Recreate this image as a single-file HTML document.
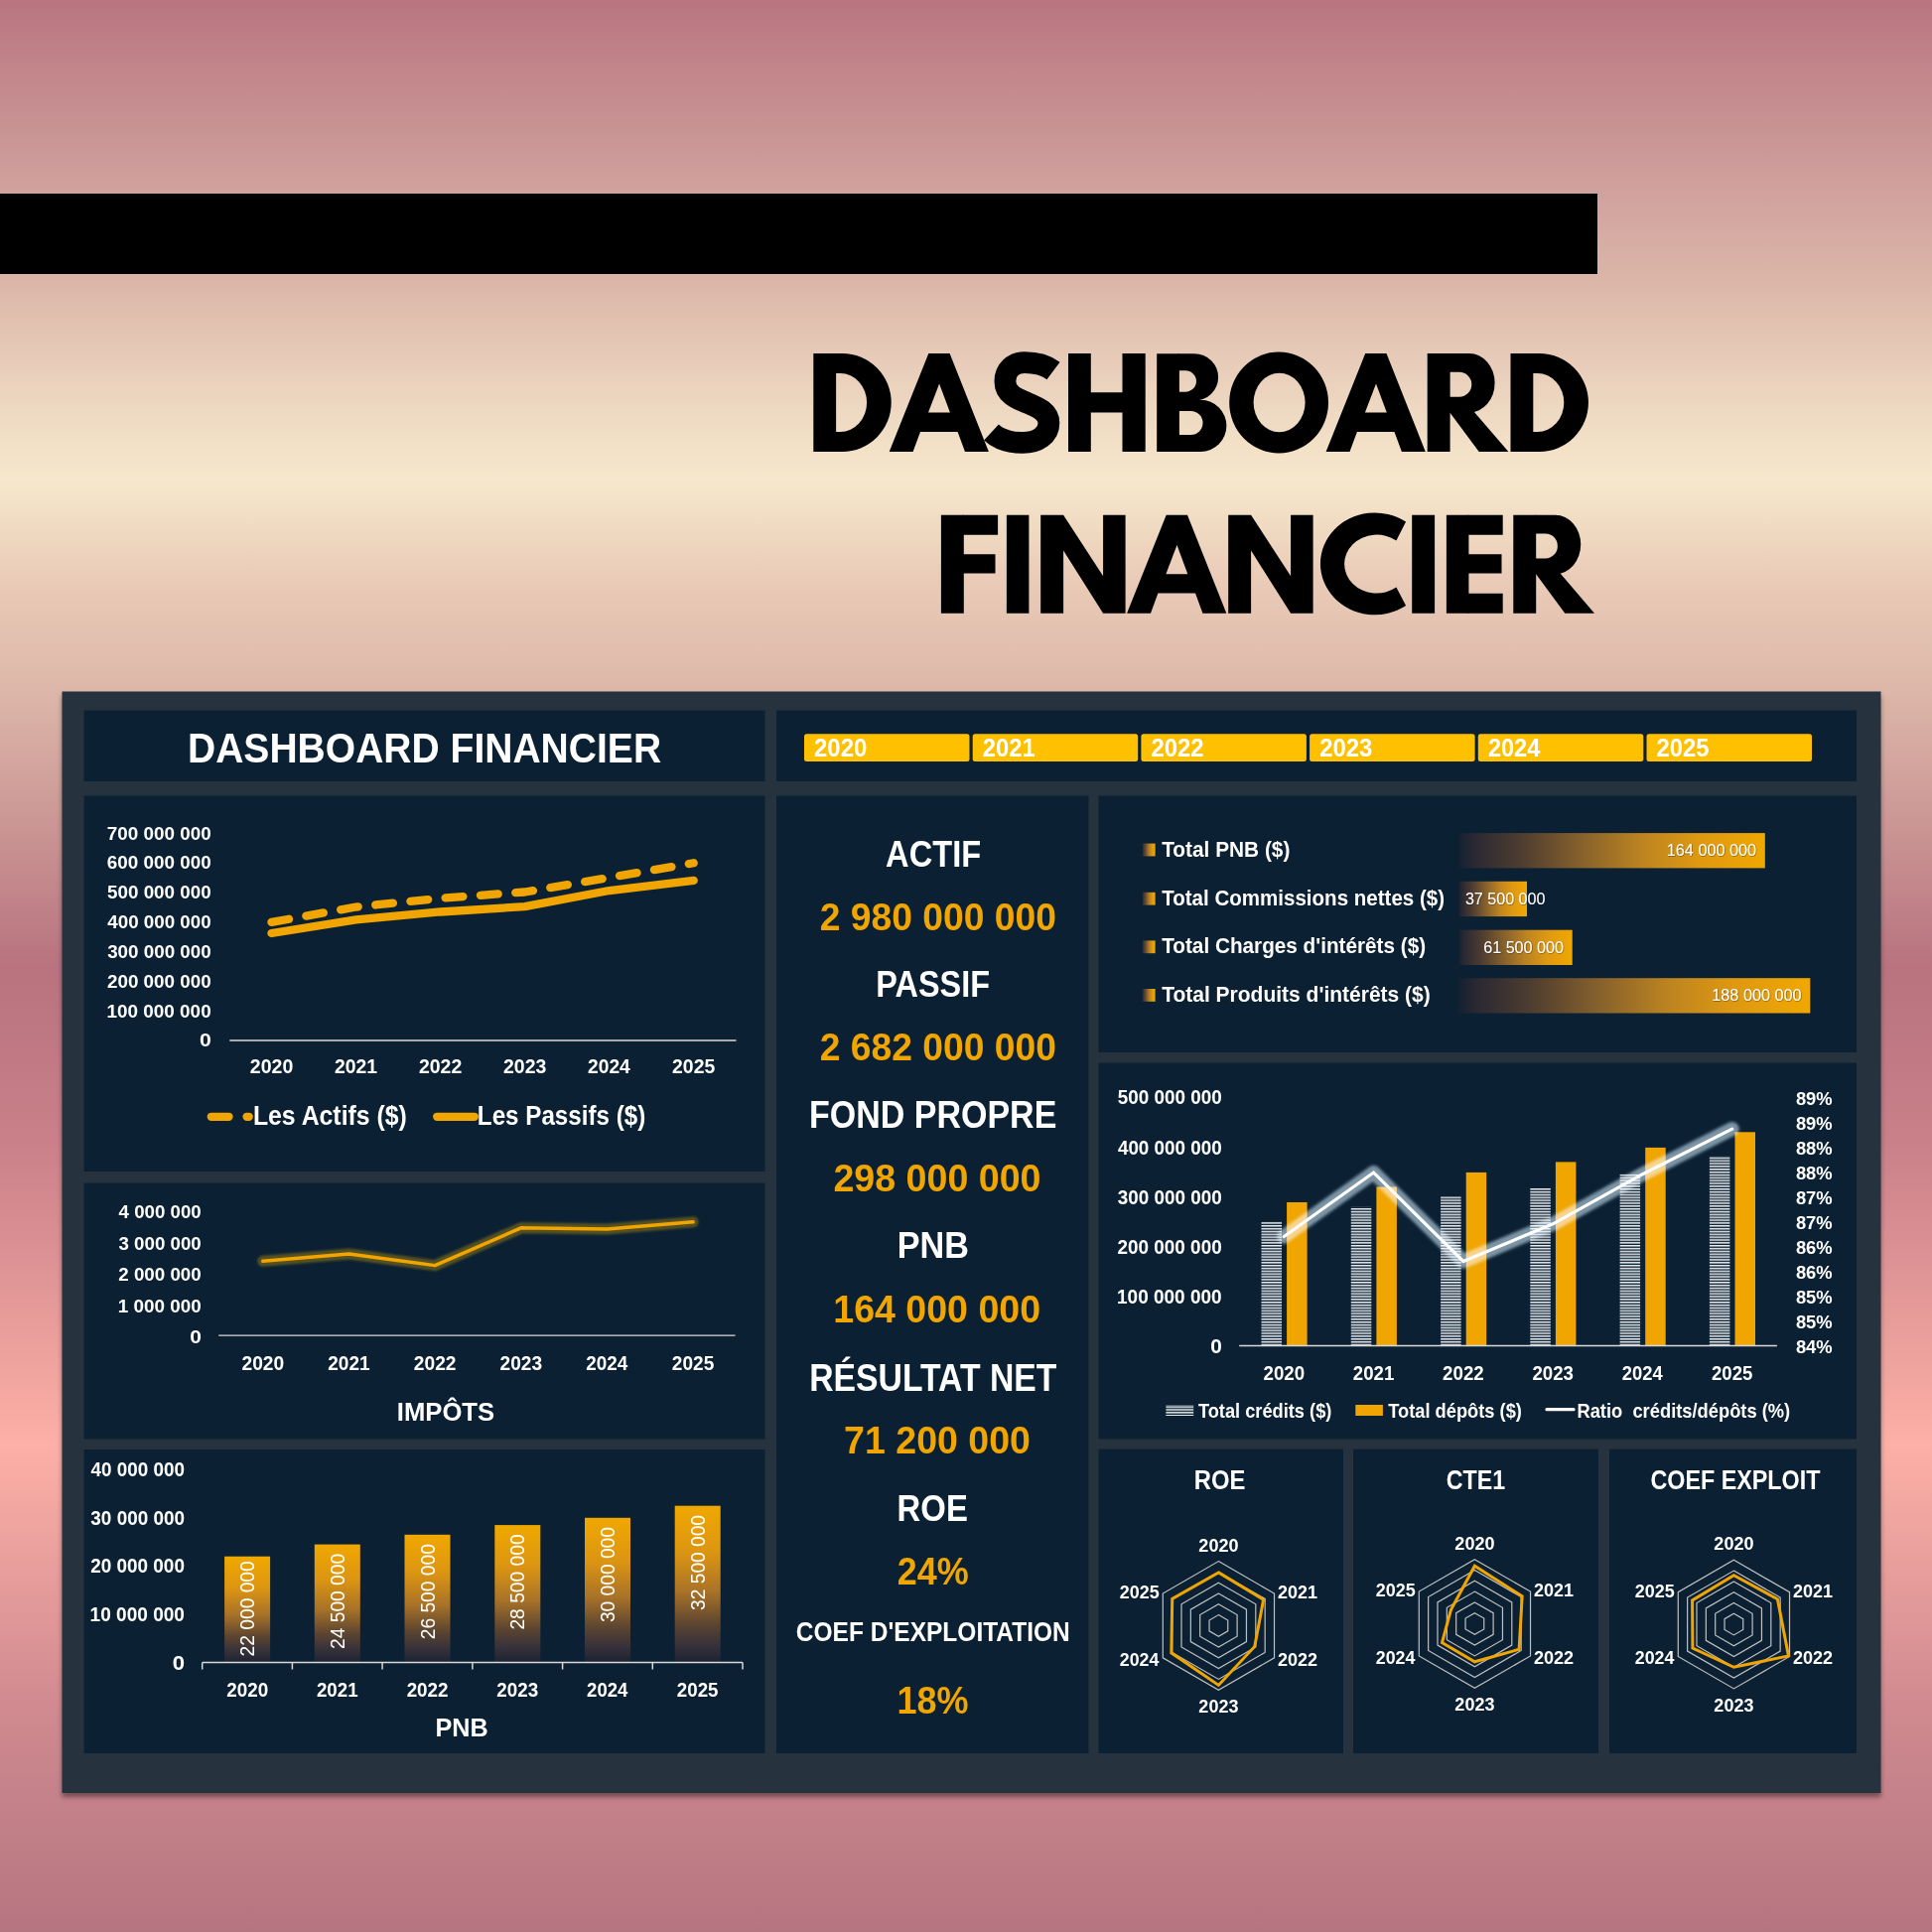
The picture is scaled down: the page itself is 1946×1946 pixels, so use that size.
<!DOCTYPE html>
<html><head><meta charset="utf-8"><title>Dashboard Financier</title>
<style>
html,body{margin:0;padding:0;}
body{width:1946px;height:1946px;overflow:hidden;background:linear-gradient(180deg, #b97580 0px, #d0a19d 190px, #dbb5a8 280px, #ebd3be 390px, #f6e8cc 483px, #eaccb8 580px, #dcb6a8 700px, #b8737f 973px, #c98089 1150px, #fcb0a6 1455px, #d08a90 1720px, #b57580 1946px);font-family:"Liberation Sans",sans-serif;}
svg{position:absolute;left:0;top:0;}
text{font-family:"Liberation Sans",sans-serif;}
</style></head><body>
<svg width="1946" height="1946" viewBox="0 0 1946 1946">
<defs>
<linearGradient id="gbar" x1="0" y1="0" x2="0" y2="1">
 <stop offset="0" stop-color="#f0a800"/><stop offset="0.3" stop-color="#dc9512"/><stop offset="0.55" stop-color="#a87228"/><stop offset="0.75" stop-color="#5e4630"/><stop offset="0.9" stop-color="#34303a"/><stop offset="1" stop-color="#1c2330"/>
</linearGradient>
<linearGradient id="gsq" x1="0" y1="0" x2="1" y2="0">
 <stop offset="0" stop-color="#2a2833"/><stop offset="0.25" stop-color="#6a4c2e"/><stop offset="0.5" stop-color="#ad7a26"/><stop offset="0.75" stop-color="#da9a14"/><stop offset="1" stop-color="#f2a800"/>
</linearGradient>
<linearGradient id="gh0" x1="0" y1="0" x2="1" y2="0"><stop offset="0" stop-color="#142030"/><stop offset="0.05" stop-color="#2a2833"/><stop offset="0.2" stop-color="#4d3c30"/><stop offset="0.4" stop-color="#86612c"/><stop offset="0.6" stop-color="#bd8420"/><stop offset="0.78" stop-color="#de9812"/><stop offset="1" stop-color="#f0a800"/></linearGradient>
<linearGradient id="gh1" x1="0" y1="0" x2="1" y2="0"><stop offset="0" stop-color="#142030"/><stop offset="0.05" stop-color="#2a2833"/><stop offset="0.2" stop-color="#4d3c30"/><stop offset="0.4" stop-color="#86612c"/><stop offset="0.6" stop-color="#bd8420"/><stop offset="0.78" stop-color="#de9812"/><stop offset="1" stop-color="#f0a800"/></linearGradient>
<linearGradient id="gh2" x1="0" y1="0" x2="1" y2="0"><stop offset="0" stop-color="#142030"/><stop offset="0.05" stop-color="#2a2833"/><stop offset="0.2" stop-color="#4d3c30"/><stop offset="0.4" stop-color="#86612c"/><stop offset="0.6" stop-color="#bd8420"/><stop offset="0.78" stop-color="#de9812"/><stop offset="1" stop-color="#f0a800"/></linearGradient>
<linearGradient id="gh3" x1="0" y1="0" x2="1" y2="0"><stop offset="0" stop-color="#142030"/><stop offset="0.05" stop-color="#2a2833"/><stop offset="0.2" stop-color="#4d3c30"/><stop offset="0.4" stop-color="#86612c"/><stop offset="0.6" stop-color="#bd8420"/><stop offset="0.78" stop-color="#de9812"/><stop offset="1" stop-color="#f0a800"/></linearGradient>
<mask id="tm" maskUnits="userSpaceOnUse" x="0" y="0" width="1946" height="1946"><path d="M819.30,356.00 H848.30 A49.45,49.45 0 0 1 848.30,454.90 H819.30 Z" fill="#fff"/><path d="M895.70,454.90 L935.30,356.00 L956.60,356.00 L995.90,454.90 L972.00,454.90 L964.60,434.90 L927.00,434.90 L919.60,454.90 Z" fill="#fff"/><path d="M1076.00,356.00 H1098.80 V454.90 H1076.00 Z" fill="#fff"/><path d="M1130.50,356.00 H1153.70 V454.90 H1130.50 Z" fill="#fff"/><path d="M1097.80,395.30 H1131.50 V415.40 H1097.80 Z" fill="#fff"/><path d="M1165.20,356.20 H1187.90 V454.90 H1165.20 Z" fill="#fff"/><path d="M1186.9,356.2 H1203 A23.7,23.3 0 0 1 1203,403.6 H1186.9 Z" fill="#fff"/><path d="M1186.9,402.8 H1209.4 A26,26.05 0 0 1 1209.4,454.9 H1186.9 Z" fill="#fff"/><path d="M1238.2,405.45 A49.9,50.95 0 1 0 1338,405.45 A49.9,50.95 0 1 0 1238.2,405.45 Z" fill="#fff"/><path d="M1335.60,454.90 L1375.20,356.00 L1396.50,356.00 L1435.80,454.90 L1411.90,454.90 L1404.50,434.90 L1366.90,434.90 L1359.50,454.90 Z" fill="#fff"/><path d="M1437.70,356.00 H1460.60 V454.90 H1437.70 Z" fill="#fff"/><path d="M1459.60,356.00 H1480.00 A25.6,29.75 0 0 1 1480.00,415.50 H1459.60 Z" fill="#fff"/><path d="M1459.60,414.40 L1484.50,414.40 L1519.40,454.90 L1489.70,454.90 Z" fill="#fff"/><path d="M1521.50,356.00 H1550.50 A49.45,49.45 0 0 1 1550.50,454.90 H1521.50 Z" fill="#fff"/><path d="M947.90,518.70 H970.80 V617.80 H947.90 Z" fill="#fff"/><path d="M969.80,518.70 H1005.10 V538.80 H969.80 Z" fill="#fff"/><path d="M969.80,558.20 H1002.50 V577.50 H969.80 Z" fill="#fff"/><path d="M1013.90,518.70 H1036.40 V617.80 H1013.90 Z" fill="#fff"/><path d="M1048.20,617.80 L1048.20,518.70 L1071.10,518.70 L1111.10,580.30 L1111.10,518.70 L1133.60,518.70 L1133.60,617.80 L1111.10,617.80 L1071.10,554.60 L1071.10,617.80 Z" fill="#fff"/><path d="M1135.10,617.80 L1174.70,518.70 L1196.00,518.70 L1235.30,617.80 L1211.40,617.80 L1204.00,597.60 L1166.40,597.60 L1159.00,617.80 Z" fill="#fff"/><path d="M1237.20,617.80 L1237.20,518.70 L1260.10,518.70 L1300.10,580.30 L1300.10,518.70 L1322.60,518.70 L1322.60,617.80 L1300.10,617.80 L1260.10,554.60 L1260.10,617.80 Z" fill="#fff"/><path d="M1416.1,525.6 A54.9,51.4 0 1 0 1416.1,610.1 L1406.4,591.6 A32.6,29.5 0 1 1 1406.4,544.6 Z" fill="#fff"/><path d="M1422.20,518.70 H1445.10 V617.80 H1422.20 Z" fill="#fff"/><path d="M1456.90,518.70 H1479.40 V617.80 H1456.90 Z" fill="#fff"/><path d="M1478.40,518.70 H1513.70 V538.80 H1478.40 Z" fill="#fff"/><path d="M1478.40,558.20 H1512.50 V577.50 H1478.40 Z" fill="#fff"/><path d="M1478.40,597.80 H1513.70 V617.80 H1478.40 Z" fill="#fff"/><path d="M1524.30,518.70 H1547.20 V617.80 H1524.30 Z" fill="#fff"/><path d="M1546.20,518.70 H1566.60 A25.6,29.75 0 0 1 1566.60,578.20 H1546.20 Z" fill="#fff"/><path d="M1546.20,577.10 L1571.10,577.10 L1606.00,617.80 L1576.30,617.80 Z" fill="#fff"/><path d="M1061,373.5 C1053,367.5 1043,365.2 1032,365.2 C1020,365.2 1012.4,373 1012.4,384 C1012.4,397 1024,401.5 1034,405.5 C1046,410.5 1056.4,415 1056.4,426 C1056.4,438.5 1045,445.9 1030,445.9 C1016,445.9 1005,441.5 998.5,435.5" fill="none" stroke="#fff" stroke-width="21.8"/><path d="M842.10,376.00 H846.50 A26.60,29.50 0 0 1 846.50,435.00 H842.10 Z" fill="#000"/><path d="M946.10,386.40 L956.90,415.50 L935.00,415.50 Z" fill="#000"/><path d="M1187.9,373.3 H1194 A11,10.7 0 0 1 1194,394.7 H1187.9 Z" fill="#000"/><path d="M1187.9,414 H1199.5 A12,11.95 0 0 1 1199.5,437.9 H1187.9 Z" fill="#000"/><path d="M1262.6,405.5 A26,29.7 0 1 0 1314.6,405.5 A26,29.7 0 1 0 1262.6,405.5 Z" fill="#000"/><path d="M1386.00,386.40 L1396.80,415.50 L1374.90,415.50 Z" fill="#000"/><path d="M1460.60,374.70 H1470.00 A12.3,12.55 0 0 1 1470.00,399.80 H1460.60 Z" fill="#000"/><path d="M1544.30,376.00 H1548.70 A26.60,29.50 0 0 1 1548.70,435.00 H1544.30 Z" fill="#000"/><path d="M1185.50,549.10 L1196.30,578.20 L1174.40,578.20 Z" fill="#000"/><path d="M1547.20,537.40 H1556.60 A12.3,12.55 0 0 1 1556.60,562.50 H1547.20 Z" fill="#000"/></mask>
<pattern id="stripes" patternUnits="userSpaceOnUse" width="6" height="2.85">
 <rect width="6" height="2.85" fill="#0b2133"/><rect y="0" width="6" height="1.5" fill="#eceef0"/>
</pattern>
<filter id="glow" x="-20%" y="-50%" width="140%" height="200%"><feGaussianBlur stdDeviation="1.3"/></filter>
<filter id="glow2" x="-20%" y="-50%" width="140%" height="200%"><feGaussianBlur stdDeviation="1.6"/></filter>
<filter id="shadow" x="-5%" y="-5%" width="110%" height="110%"><feDropShadow dx="0" dy="4" stdDeviation="2.5" flood-color="#000" flood-opacity="0.42"/></filter>
<filter id="tshadow" x="-10%" y="-30%" width="120%" height="160%"><feDropShadow dx="0.5" dy="0.5" stdDeviation="0.6" flood-color="#000" flood-opacity="0.6"/></filter>
</defs>
<rect x="0" y="195" width="1609" height="81" fill="#000"/>
<rect x="790" y="330" width="840" height="310" fill="#000" mask="url(#tm)"/>
<rect x="62.5" y="696.5" width="1832" height="1109.5" fill="#25333e" filter="url(#shadow)"/>
<rect x="84.5" y="715.5" width="686.0" height="71.5" fill="#0b2133"/>
<rect x="782.0" y="715.5" width="1088.0" height="71.5" fill="#0b2133"/>
<rect x="84.5" y="801.5" width="686.0" height="378.5" fill="#0b2133"/>
<rect x="84.5" y="1191.5" width="686.0" height="258.0" fill="#0b2133"/>
<rect x="84.5" y="1460.0" width="686.0" height="306.0" fill="#0b2133"/>
<rect x="782.0" y="801.5" width="314.5" height="964.5" fill="#0b2133"/>
<rect x="1106.5" y="801.5" width="763.5" height="258.5" fill="#0b2133"/>
<rect x="1106.5" y="1070.5" width="763.5" height="379.0" fill="#0b2133"/>
<rect x="1106.5" y="1459.5" width="246.5" height="306.5" fill="#0b2133"/>
<rect x="1363.0" y="1459.5" width="247.0" height="306.5" fill="#0b2133"/>
<rect x="1621.0" y="1459.5" width="249.0" height="306.5" fill="#0b2133"/>
<text x="188.97" y="767.70" font-size="43.17" font-weight="bold" fill="#fff" textLength="477.11" lengthAdjust="spacingAndGlyphs">DASHBOARD FINANCIER</text>
<rect x="810.0" y="739.3" width="166.5" height="27.7" rx="2.5" fill="#ffc000"/>
<text x="820.06" y="762.10" font-size="25.00" font-weight="bold" fill="#fff" textLength="53.25" lengthAdjust="spacingAndGlyphs">2020</text>
<rect x="979.7" y="739.3" width="166.5" height="27.7" rx="2.5" fill="#ffc000"/>
<text x="989.77" y="762.10" font-size="25.00" font-weight="bold" fill="#fff" textLength="52.94" lengthAdjust="spacingAndGlyphs">2021</text>
<rect x="1149.4" y="739.3" width="166.5" height="27.7" rx="2.5" fill="#ffc000"/>
<text x="1159.46" y="762.10" font-size="25.00" font-weight="bold" fill="#fff" textLength="53.19" lengthAdjust="spacingAndGlyphs">2022</text>
<rect x="1319.1" y="739.3" width="166.5" height="27.7" rx="2.5" fill="#ffc000"/>
<text x="1329.16" y="762.10" font-size="25.00" font-weight="bold" fill="#fff" textLength="53.12" lengthAdjust="spacingAndGlyphs">2023</text>
<rect x="1488.8" y="739.3" width="166.5" height="27.7" rx="2.5" fill="#ffc000"/>
<text x="1498.88" y="762.10" font-size="25.00" font-weight="bold" fill="#fff" textLength="52.39" lengthAdjust="spacingAndGlyphs">2024</text>
<rect x="1658.5" y="739.3" width="166.5" height="27.7" rx="2.5" fill="#ffc000"/>
<text x="1668.57" y="762.10" font-size="25.00" font-weight="bold" fill="#fff" textLength="52.94" lengthAdjust="spacingAndGlyphs">2025</text>
<text x="107.80" y="845.60" font-size="18.02" font-weight="bold" fill="#fff" textLength="104.88" lengthAdjust="spacingAndGlyphs">700 000 000</text>
<text x="107.89" y="875.44" font-size="18.02" font-weight="bold" fill="#fff" textLength="104.78" lengthAdjust="spacingAndGlyphs">600 000 000</text>
<text x="108.04" y="905.28" font-size="18.02" font-weight="bold" fill="#fff" textLength="104.64" lengthAdjust="spacingAndGlyphs">500 000 000</text>
<text x="108.32" y="935.12" font-size="18.02" font-weight="bold" fill="#fff" textLength="104.36" lengthAdjust="spacingAndGlyphs">400 000 000</text>
<text x="108.18" y="964.96" font-size="18.02" font-weight="bold" fill="#fff" textLength="104.50" lengthAdjust="spacingAndGlyphs">300 000 000</text>
<text x="107.94" y="994.80" font-size="18.02" font-weight="bold" fill="#fff" textLength="104.74" lengthAdjust="spacingAndGlyphs">200 000 000</text>
<text x="107.42" y="1024.64" font-size="18.02" font-weight="bold" fill="#fff" textLength="105.26" lengthAdjust="spacingAndGlyphs">100 000 000</text>
<text x="200.95" y="1054.48" font-size="18.02" font-weight="bold" fill="#fff" textLength="11.83" lengthAdjust="spacingAndGlyphs">0</text>
<line x1="231.3" y1="1048" x2="741.5" y2="1048" stroke="#d9d9d9" stroke-width="1.3"/>
<text x="251.87" y="1080.90" font-size="20.35" font-weight="bold" fill="#fff" textLength="43.41" lengthAdjust="spacingAndGlyphs">2020</text>
<text x="336.91" y="1080.90" font-size="20.35" font-weight="bold" fill="#fff" textLength="43.15" lengthAdjust="spacingAndGlyphs">2021</text>
<text x="421.95" y="1080.90" font-size="20.35" font-weight="bold" fill="#fff" textLength="43.36" lengthAdjust="spacingAndGlyphs">2022</text>
<text x="506.99" y="1080.90" font-size="20.35" font-weight="bold" fill="#fff" textLength="43.31" lengthAdjust="spacingAndGlyphs">2023</text>
<text x="592.04" y="1080.90" font-size="20.35" font-weight="bold" fill="#fff" textLength="42.71" lengthAdjust="spacingAndGlyphs">2024</text>
<text x="677.07" y="1080.90" font-size="20.35" font-weight="bold" fill="#fff" textLength="43.15" lengthAdjust="spacingAndGlyphs">2025</text>
<path d="M273.50,928.94 L358.54,913.51 L443.58,904.77 L528.62,898.50 L613.66,883.88 L698.70,869.26" fill="none" stroke="#f0a500" stroke-width="8.3" stroke-linecap="round" stroke-linejoin="round" stroke-dasharray="17.8 17.6"/>
<path d="M273.50,939.98 L358.54,926.40 L443.58,918.49 L528.62,913.12 L613.66,897.01 L698.70,886.86" fill="none" stroke="#f0a500" stroke-width="8.3" stroke-linecap="round" stroke-linejoin="round"/>
<line x1="212.8" y1="1124.8" x2="230.5" y2="1124.8" stroke="#f0a500" stroke-width="8.3" stroke-linecap="round"/>
<line x1="248.6" y1="1124.8" x2="250.7" y2="1124.8" stroke="#f0a500" stroke-width="8.3" stroke-linecap="round"/>
<text x="254.92" y="1132.80" font-size="27.91" font-weight="bold" fill="#fff" textLength="154.91" lengthAdjust="spacingAndGlyphs">Les Actifs ($)</text>
<line x1="440.2" y1="1124.8" x2="477.8" y2="1124.8" stroke="#f0a500" stroke-width="8.3" stroke-linecap="round"/>
<text x="480.87" y="1132.80" font-size="27.91" font-weight="bold" fill="#fff" textLength="169.37" lengthAdjust="spacingAndGlyphs">Les Passifs ($)</text>
<text x="119.62" y="1227.00" font-size="18.90" font-weight="bold" fill="#fff" textLength="83.15" lengthAdjust="spacingAndGlyphs">4 000 000</text>
<text x="119.48" y="1258.50" font-size="18.90" font-weight="bold" fill="#fff" textLength="83.30" lengthAdjust="spacingAndGlyphs">3 000 000</text>
<text x="119.24" y="1290.00" font-size="18.90" font-weight="bold" fill="#fff" textLength="83.53" lengthAdjust="spacingAndGlyphs">2 000 000</text>
<text x="118.72" y="1321.50" font-size="18.90" font-weight="bold" fill="#fff" textLength="84.06" lengthAdjust="spacingAndGlyphs">1 000 000</text>
<text x="191.16" y="1353.00" font-size="18.90" font-weight="bold" fill="#fff" textLength="11.71" lengthAdjust="spacingAndGlyphs">0</text>
<line x1="220.2" y1="1345.2" x2="740.5" y2="1345.2" stroke="#d9d9d9" stroke-width="1.3"/>
<text x="243.53" y="1380.00" font-size="19.33" font-weight="bold" fill="#fff" textLength="42.68" lengthAdjust="spacingAndGlyphs">2020</text>
<text x="330.19" y="1380.00" font-size="19.33" font-weight="bold" fill="#fff" textLength="42.43" lengthAdjust="spacingAndGlyphs">2021</text>
<text x="416.85" y="1380.00" font-size="19.33" font-weight="bold" fill="#fff" textLength="42.63" lengthAdjust="spacingAndGlyphs">2022</text>
<text x="503.51" y="1380.00" font-size="19.33" font-weight="bold" fill="#fff" textLength="42.58" lengthAdjust="spacingAndGlyphs">2023</text>
<text x="590.18" y="1380.00" font-size="19.33" font-weight="bold" fill="#fff" textLength="42.00" lengthAdjust="spacingAndGlyphs">2024</text>
<text x="676.83" y="1380.00" font-size="19.33" font-weight="bold" fill="#fff" textLength="42.43" lengthAdjust="spacingAndGlyphs">2025</text>
<path d="M264.80,1270.23 L351.46,1262.99 L438.12,1274.64 L524.78,1236.84 L611.44,1238.10 L698.10,1230.86" fill="none" stroke="#f0b400" stroke-width="11" stroke-linejoin="miter" stroke-linecap="round" opacity="0.33" filter="url(#glow)"/>
<path d="M264.80,1270.23 L351.46,1262.99 L438.12,1274.64 L524.78,1236.84 L611.44,1238.10 L698.10,1230.86" fill="none" stroke="#f0a500" stroke-width="3.5" stroke-linejoin="round" stroke-linecap="round"/>
<text x="399.77" y="1431.00" font-size="26.16" font-weight="bold" fill="#fff" textLength="98.42" lengthAdjust="spacingAndGlyphs">IMPÔTS</text>
<text x="91.52" y="1487.30" font-size="19.48" font-weight="bold" fill="#fff" textLength="94.44" lengthAdjust="spacingAndGlyphs">40 000 000</text>
<text x="91.37" y="1535.85" font-size="19.48" font-weight="bold" fill="#fff" textLength="94.58" lengthAdjust="spacingAndGlyphs">30 000 000</text>
<text x="91.14" y="1584.40" font-size="19.48" font-weight="bold" fill="#fff" textLength="94.82" lengthAdjust="spacingAndGlyphs">20 000 000</text>
<text x="90.61" y="1632.95" font-size="19.48" font-weight="bold" fill="#fff" textLength="95.35" lengthAdjust="spacingAndGlyphs">10 000 000</text>
<text x="173.82" y="1681.50" font-size="19.48" font-weight="bold" fill="#fff" textLength="12.29" lengthAdjust="spacingAndGlyphs">0</text>
<rect x="226.1" y="1567.7" width="46" height="106.8" fill="url(#gbar)"/>
<g transform="translate(249.10,1667.49) rotate(-90)"><text x="-0.96" y="7.00" font-size="20.35" font-weight="normal" fill="#fff" textLength="96.18" lengthAdjust="spacingAndGlyphs">22 000 000</text></g>
<rect x="316.8" y="1555.6" width="46" height="118.9" fill="url(#gbar)"/>
<g transform="translate(339.82,1660.05) rotate(-90)"><text x="-0.96" y="7.00" font-size="20.35" font-weight="normal" fill="#fff" textLength="96.18" lengthAdjust="spacingAndGlyphs">24 500 000</text></g>
<rect x="407.5" y="1545.8" width="46" height="128.7" fill="url(#gbar)"/>
<g transform="translate(430.54,1650.34) rotate(-90)"><text x="-0.96" y="7.00" font-size="20.35" font-weight="normal" fill="#fff" textLength="96.18" lengthAdjust="spacingAndGlyphs">26 500 000</text></g>
<rect x="498.3" y="1536.1" width="46" height="138.4" fill="url(#gbar)"/>
<g transform="translate(521.26,1640.63) rotate(-90)"><text x="-0.96" y="7.00" font-size="20.35" font-weight="normal" fill="#fff" textLength="96.18" lengthAdjust="spacingAndGlyphs">28 500 000</text></g>
<rect x="589.0" y="1528.8" width="46" height="145.7" fill="url(#gbar)"/>
<g transform="translate(611.98,1633.35) rotate(-90)"><text x="-0.72" y="7.00" font-size="20.35" font-weight="normal" fill="#fff" textLength="95.94" lengthAdjust="spacingAndGlyphs">30 000 000</text></g>
<rect x="679.7" y="1516.7" width="46" height="157.8" fill="url(#gbar)"/>
<g transform="translate(702.70,1621.21) rotate(-90)"><text x="-0.72" y="7.00" font-size="20.35" font-weight="normal" fill="#fff" textLength="95.94" lengthAdjust="spacingAndGlyphs">32 500 000</text></g>
<line x1="203.7" y1="1674.5" x2="748" y2="1674.5" stroke="#d9d9d9" stroke-width="1.5"/>
<line x1="203.7" y1="1674.5" x2="203.7" y2="1681.5" stroke="#d9d9d9" stroke-width="1.5"/>
<line x1="294.4" y1="1674.5" x2="294.4" y2="1681.5" stroke="#d9d9d9" stroke-width="1.5"/>
<line x1="385.1" y1="1674.5" x2="385.1" y2="1681.5" stroke="#d9d9d9" stroke-width="1.5"/>
<line x1="475.9" y1="1674.5" x2="475.9" y2="1681.5" stroke="#d9d9d9" stroke-width="1.5"/>
<line x1="566.6" y1="1674.5" x2="566.6" y2="1681.5" stroke="#d9d9d9" stroke-width="1.5"/>
<line x1="657.3" y1="1674.5" x2="657.3" y2="1681.5" stroke="#d9d9d9" stroke-width="1.5"/>
<line x1="748.0" y1="1674.5" x2="748.0" y2="1681.5" stroke="#d9d9d9" stroke-width="1.5"/>
<text x="228.19" y="1708.60" font-size="19.77" font-weight="bold" fill="#fff" textLength="41.96" lengthAdjust="spacingAndGlyphs">2020</text>
<text x="318.91" y="1708.60" font-size="19.77" font-weight="bold" fill="#fff" textLength="41.71" lengthAdjust="spacingAndGlyphs">2021</text>
<text x="409.63" y="1708.60" font-size="19.77" font-weight="bold" fill="#fff" textLength="41.91" lengthAdjust="spacingAndGlyphs">2022</text>
<text x="500.35" y="1708.60" font-size="19.77" font-weight="bold" fill="#fff" textLength="41.86" lengthAdjust="spacingAndGlyphs">2023</text>
<text x="591.08" y="1708.60" font-size="19.77" font-weight="bold" fill="#fff" textLength="41.28" lengthAdjust="spacingAndGlyphs">2024</text>
<text x="681.79" y="1708.60" font-size="19.77" font-weight="bold" fill="#fff" textLength="41.71" lengthAdjust="spacingAndGlyphs">2025</text>
<text x="438.50" y="1749.40" font-size="25.73" font-weight="bold" fill="#fff" textLength="53.21" lengthAdjust="spacingAndGlyphs">PNB</text>
<text x="892.08" y="872.60" font-size="36.05" font-weight="bold" fill="#fff" textLength="96.11" lengthAdjust="spacingAndGlyphs">ACTIF</text>
<text x="825.70" y="936.90" font-size="38.66" font-weight="bold" fill="#f0a500" textLength="238.20" lengthAdjust="spacingAndGlyphs">2 980 000 000</text>
<text x="882.31" y="1004.20" font-size="37.06" font-weight="bold" fill="#fff" textLength="114.73" lengthAdjust="spacingAndGlyphs">PASSIF</text>
<text x="825.70" y="1068.00" font-size="38.66" font-weight="bold" fill="#f0a500" textLength="238.20" lengthAdjust="spacingAndGlyphs">2 682 000 000</text>
<text x="815.11" y="1136.40" font-size="37.94" font-weight="bold" fill="#fff" textLength="249.22" lengthAdjust="spacingAndGlyphs">FOND PROPRE</text>
<text x="839.38" y="1199.60" font-size="38.66" font-weight="bold" fill="#f0a500" textLength="209.17" lengthAdjust="spacingAndGlyphs">298 000 000</text>
<text x="903.69" y="1266.70" font-size="36.77" font-weight="bold" fill="#fff" textLength="72.21" lengthAdjust="spacingAndGlyphs">PNB</text>
<text x="839.25" y="1332.00" font-size="38.66" font-weight="bold" fill="#f0a500" textLength="208.80" lengthAdjust="spacingAndGlyphs">164 000 000</text>
<text x="815.22" y="1400.50" font-size="38.81" font-weight="bold" fill="#fff" textLength="249.14" lengthAdjust="spacingAndGlyphs">RÉSULTAT NET</text>
<text x="850.11" y="1463.90" font-size="38.81" font-weight="bold" fill="#f0a500" textLength="187.80" lengthAdjust="spacingAndGlyphs">71 200 000</text>
<text x="903.58" y="1532.30" font-size="36.77" font-weight="bold" fill="#fff" textLength="71.22" lengthAdjust="spacingAndGlyphs">ROE</text>
<text x="903.74" y="1595.70" font-size="38.66" font-weight="bold" fill="#f0a500" textLength="71.91" lengthAdjust="spacingAndGlyphs">24%</text>
<text x="801.82" y="1652.80" font-size="27.62" font-weight="bold" fill="#fff" textLength="276.01" lengthAdjust="spacingAndGlyphs">COEF D&#x27;EXPLOITATION</text>
<text x="903.55" y="1726.40" font-size="38.81" font-weight="bold" fill="#f0a500" textLength="72.11" lengthAdjust="spacingAndGlyphs">18%</text>
<rect x="1150.8" y="849.6" width="12.8" height="12.8" fill="url(#gsq)"/>
<text x="1170.19" y="862.60" font-size="22.09" font-weight="bold" fill="#fff" textLength="129.18" lengthAdjust="spacingAndGlyphs">Total PNB ($)</text>
<rect x="1469.1" y="839.1" width="308.7" height="35.3" fill="url(#gh0)"/>
<text x="1678.78" y="861.90" font-size="16.72" font-weight="normal" fill="#fff" textLength="90.35" lengthAdjust="spacingAndGlyphs" filter="url(#tshadow)">164 000 000</text>
<rect x="1150.8" y="898.8" width="12.8" height="12.8" fill="url(#gsq)"/>
<text x="1170.19" y="911.80" font-size="22.09" font-weight="bold" fill="#fff" textLength="284.84" lengthAdjust="spacingAndGlyphs">Total Commissions nettes ($)</text>
<rect x="1469.1" y="887.8" width="68.9" height="35.3" fill="url(#gh1)"/>
<text x="1475.90" y="911.10" font-size="16.72" font-weight="normal" fill="#fff" textLength="80.61" lengthAdjust="spacingAndGlyphs" filter="url(#tshadow)">37 500 000</text>
<rect x="1150.8" y="947.4" width="12.8" height="12.8" fill="url(#gsq)"/>
<text x="1170.19" y="960.40" font-size="22.09" font-weight="bold" fill="#fff" textLength="265.95" lengthAdjust="spacingAndGlyphs">Total Charges d&#x27;intérêts ($)</text>
<rect x="1469.1" y="936.7" width="114.6" height="35.3" fill="url(#gh2)"/>
<text x="1494.19" y="959.70" font-size="16.72" font-weight="normal" fill="#fff" textLength="80.81" lengthAdjust="spacingAndGlyphs" filter="url(#tshadow)">61 500 000</text>
<rect x="1150.8" y="996.0" width="12.8" height="12.8" fill="url(#gsq)"/>
<text x="1170.19" y="1009.00" font-size="22.09" font-weight="bold" fill="#fff" textLength="270.55" lengthAdjust="spacingAndGlyphs">Total Produits d&#x27;intérêts ($)</text>
<rect x="1469.1" y="985.2" width="354.2" height="35.3" fill="url(#gh3)"/>
<text x="1724.28" y="1008.30" font-size="16.72" font-weight="normal" fill="#fff" textLength="90.35" lengthAdjust="spacingAndGlyphs" filter="url(#tshadow)">188 000 000</text>
<text x="1125.63" y="1112.40" font-size="19.48" font-weight="bold" fill="#fff" textLength="105.05" lengthAdjust="spacingAndGlyphs">500 000 000</text>
<text x="1125.92" y="1162.56" font-size="19.48" font-weight="bold" fill="#fff" textLength="104.76" lengthAdjust="spacingAndGlyphs">400 000 000</text>
<text x="1125.78" y="1212.72" font-size="19.48" font-weight="bold" fill="#fff" textLength="104.90" lengthAdjust="spacingAndGlyphs">300 000 000</text>
<text x="1125.54" y="1262.88" font-size="19.48" font-weight="bold" fill="#fff" textLength="105.14" lengthAdjust="spacingAndGlyphs">200 000 000</text>
<text x="1125.01" y="1313.04" font-size="19.48" font-weight="bold" fill="#fff" textLength="105.67" lengthAdjust="spacingAndGlyphs">100 000 000</text>
<text x="1219.17" y="1363.20" font-size="19.48" font-weight="bold" fill="#fff" textLength="11.59" lengthAdjust="spacingAndGlyphs">0</text>
<text x="1808.90" y="1112.90" font-size="18.60" font-weight="bold" fill="#fff" textLength="36.78" lengthAdjust="spacingAndGlyphs">89%</text>
<text x="1808.90" y="1137.91" font-size="18.60" font-weight="bold" fill="#fff" textLength="36.78" lengthAdjust="spacingAndGlyphs">89%</text>
<text x="1808.90" y="1162.92" font-size="18.60" font-weight="bold" fill="#fff" textLength="36.78" lengthAdjust="spacingAndGlyphs">88%</text>
<text x="1808.90" y="1187.93" font-size="18.60" font-weight="bold" fill="#fff" textLength="36.78" lengthAdjust="spacingAndGlyphs">88%</text>
<text x="1808.90" y="1212.94" font-size="18.60" font-weight="bold" fill="#fff" textLength="36.78" lengthAdjust="spacingAndGlyphs">87%</text>
<text x="1808.90" y="1237.95" font-size="18.60" font-weight="bold" fill="#fff" textLength="36.78" lengthAdjust="spacingAndGlyphs">87%</text>
<text x="1808.90" y="1262.96" font-size="18.60" font-weight="bold" fill="#fff" textLength="36.78" lengthAdjust="spacingAndGlyphs">86%</text>
<text x="1808.90" y="1287.97" font-size="18.60" font-weight="bold" fill="#fff" textLength="36.78" lengthAdjust="spacingAndGlyphs">86%</text>
<text x="1808.90" y="1312.98" font-size="18.60" font-weight="bold" fill="#fff" textLength="36.78" lengthAdjust="spacingAndGlyphs">85%</text>
<text x="1808.90" y="1337.99" font-size="18.60" font-weight="bold" fill="#fff" textLength="36.78" lengthAdjust="spacingAndGlyphs">85%</text>
<text x="1808.90" y="1363.00" font-size="18.60" font-weight="bold" fill="#fff" textLength="36.78" lengthAdjust="spacingAndGlyphs">84%</text>
<rect x="1270.5" y="1230.6" width="20.5" height="124.9" fill="url(#stripes)"/>
<rect x="1296.1" y="1211.0" width="20.5" height="144.5" fill="#f0a500"/>
<rect x="1360.8" y="1215.8" width="20.5" height="139.7" fill="url(#stripes)"/>
<rect x="1386.4" y="1195.5" width="20.5" height="160.0" fill="#f0a500"/>
<rect x="1451.1" y="1205.0" width="20.5" height="150.5" fill="url(#stripes)"/>
<rect x="1476.7" y="1180.9" width="20.5" height="174.6" fill="#f0a500"/>
<rect x="1541.3" y="1196.1" width="20.5" height="159.4" fill="url(#stripes)"/>
<rect x="1566.9" y="1170.4" width="20.5" height="185.1" fill="#f0a500"/>
<rect x="1631.6" y="1182.7" width="20.5" height="172.8" fill="url(#stripes)"/>
<rect x="1657.2" y="1155.9" width="20.5" height="199.6" fill="#f0a500"/>
<rect x="1721.9" y="1164.9" width="20.5" height="190.6" fill="url(#stripes)"/>
<rect x="1747.5" y="1140.3" width="20.5" height="215.2" fill="#f0a500"/>
<line x1="1248.2" y1="1355.5" x2="1789.9" y2="1355.5" stroke="#d9d9d9" stroke-width="1.3"/>
<path d="M1293.30,1245.50 L1383.58,1181.00 L1473.86,1270.50 L1564.14,1232.80 L1654.42,1182.70 L1744.70,1137.10" fill="none" stroke="#76858f" stroke-width="14" stroke-linejoin="round" stroke-linecap="round" style="mix-blend-mode:screen" filter="url(#glow2)"/>
<path d="M1293.30,1245.50 L1383.58,1181.00 L1473.86,1270.50 L1564.14,1232.80 L1654.42,1182.70 L1744.70,1137.10" fill="none" stroke="#ffffff" stroke-width="3.2" stroke-linejoin="miter" stroke-linecap="round"/>
<text x="1272.54" y="1389.80" font-size="19.62" font-weight="bold" fill="#fff" textLength="41.64" lengthAdjust="spacingAndGlyphs">2020</text>
<text x="1362.83" y="1389.80" font-size="19.62" font-weight="bold" fill="#fff" textLength="41.40" lengthAdjust="spacingAndGlyphs">2021</text>
<text x="1453.11" y="1389.80" font-size="19.62" font-weight="bold" fill="#fff" textLength="41.60" lengthAdjust="spacingAndGlyphs">2022</text>
<text x="1543.39" y="1389.80" font-size="19.62" font-weight="bold" fill="#fff" textLength="41.55" lengthAdjust="spacingAndGlyphs">2023</text>
<text x="1633.68" y="1389.80" font-size="19.62" font-weight="bold" fill="#fff" textLength="40.98" lengthAdjust="spacingAndGlyphs">2024</text>
<text x="1723.95" y="1389.80" font-size="19.62" font-weight="bold" fill="#fff" textLength="41.40" lengthAdjust="spacingAndGlyphs">2025</text>
<rect x="1174.4" y="1415" width="27.8" height="11" fill="url(#stripes)"/>
<text x="1206.92" y="1427.50" font-size="21.08" font-weight="bold" fill="#fff" textLength="134.48" lengthAdjust="spacingAndGlyphs">Total crédits ($)</text>
<rect x="1365.3" y="1415" width="27.6" height="11" fill="#f0a500"/>
<text x="1398.22" y="1427.50" font-size="21.08" font-weight="bold" fill="#fff" textLength="134.70" lengthAdjust="spacingAndGlyphs">Total dépôts ($)</text>
<line x1="1558" y1="1419.7" x2="1585" y2="1419.7" stroke="#fff" stroke-width="3.2" stroke-linecap="round"/>
<text x="1588.46" y="1427.50" font-size="21.08" font-weight="bold" fill="#fff" textLength="214.78" lengthAdjust="spacingAndGlyphs">Ratio  crédits/dépôts (%)</text>
<polygon points="1227.40,1626.60 1236.75,1632.00 1236.75,1642.80 1227.40,1648.20 1218.05,1642.80 1218.05,1632.00" fill="none" stroke="#c0c0c0" stroke-width="1.2"/>
<polygon points="1227.40,1615.80 1246.11,1626.60 1246.11,1648.20 1227.40,1659.00 1208.69,1648.20 1208.69,1626.60" fill="none" stroke="#c0c0c0" stroke-width="1.2"/>
<polygon points="1227.40,1605.00 1255.46,1621.20 1255.46,1653.60 1227.40,1669.80 1199.34,1653.60 1199.34,1621.20" fill="none" stroke="#c0c0c0" stroke-width="1.2"/>
<polygon points="1227.40,1594.20 1264.81,1615.80 1264.81,1659.00 1227.40,1680.60 1189.99,1659.00 1189.99,1615.80" fill="none" stroke="#c0c0c0" stroke-width="1.2"/>
<polygon points="1227.40,1583.40 1274.17,1610.40 1274.17,1664.40 1227.40,1691.40 1180.63,1664.40 1180.63,1610.40" fill="none" stroke="#c0c0c0" stroke-width="1.2"/>
<polygon points="1227.40,1572.60 1283.52,1605.00 1283.52,1669.80 1227.40,1702.20 1171.28,1669.80 1171.28,1605.00" fill="none" stroke="#c0c0c0" stroke-width="1.2"/>
<polygon points="1227.40,1583.90 1272.61,1611.30 1263.77,1658.40 1227.40,1697.40 1179.86,1664.85 1180.72,1610.45" fill="none" stroke="#f0a500" stroke-width="3" stroke-linejoin="miter"/>
<text x="1202.79" y="1500.00" font-size="26.74" font-weight="bold" fill="#fff" textLength="51.65" lengthAdjust="spacingAndGlyphs">ROE</text>
<text x="1207.37" y="1562.65" font-size="17.88" font-weight="bold" fill="#fff" textLength="40.19" lengthAdjust="spacingAndGlyphs">2020</text>
<text x="1286.97" y="1610.25" font-size="17.88" font-weight="bold" fill="#fff" textLength="39.96" lengthAdjust="spacingAndGlyphs">2021</text>
<text x="1286.97" y="1677.55" font-size="17.88" font-weight="bold" fill="#fff" textLength="40.15" lengthAdjust="spacingAndGlyphs">2022</text>
<text x="1207.37" y="1725.15" font-size="17.88" font-weight="bold" fill="#fff" textLength="40.10" lengthAdjust="spacingAndGlyphs">2023</text>
<text x="1127.78" y="1677.55" font-size="17.88" font-weight="bold" fill="#fff" textLength="39.55" lengthAdjust="spacingAndGlyphs">2024</text>
<text x="1127.77" y="1610.25" font-size="17.88" font-weight="bold" fill="#fff" textLength="39.96" lengthAdjust="spacingAndGlyphs">2025</text>
<polygon points="1485.40,1624.70 1494.75,1630.10 1494.75,1640.90 1485.40,1646.30 1476.05,1640.90 1476.05,1630.10" fill="none" stroke="#c0c0c0" stroke-width="1.2"/>
<polygon points="1485.40,1613.90 1504.11,1624.70 1504.11,1646.30 1485.40,1657.10 1466.69,1646.30 1466.69,1624.70" fill="none" stroke="#c0c0c0" stroke-width="1.2"/>
<polygon points="1485.40,1603.10 1513.46,1619.30 1513.46,1651.70 1485.40,1667.90 1457.34,1651.70 1457.34,1619.30" fill="none" stroke="#c0c0c0" stroke-width="1.2"/>
<polygon points="1485.40,1592.30 1522.81,1613.90 1522.81,1657.10 1485.40,1678.70 1447.99,1657.10 1447.99,1613.90" fill="none" stroke="#c0c0c0" stroke-width="1.2"/>
<polygon points="1485.40,1581.50 1532.17,1608.50 1532.17,1662.50 1485.40,1689.50 1438.63,1662.50 1438.63,1608.50" fill="none" stroke="#c0c0c0" stroke-width="1.2"/>
<polygon points="1485.40,1570.70 1541.52,1603.10 1541.52,1667.90 1485.40,1700.30 1429.28,1667.90 1429.28,1603.10" fill="none" stroke="#c0c0c0" stroke-width="1.2"/>
<polygon points="1485.40,1577.20 1533.20,1607.90 1530.09,1661.30 1485.40,1673.80 1452.49,1654.50 1461.41,1621.65" fill="none" stroke="#f0a500" stroke-width="3" stroke-linejoin="miter"/>
<text x="1456.77" y="1500.00" font-size="26.74" font-weight="bold" fill="#fff" textLength="59.40" lengthAdjust="spacingAndGlyphs">CTE1</text>
<text x="1465.37" y="1560.75" font-size="17.88" font-weight="bold" fill="#fff" textLength="40.19" lengthAdjust="spacingAndGlyphs">2020</text>
<text x="1544.97" y="1608.35" font-size="17.88" font-weight="bold" fill="#fff" textLength="39.96" lengthAdjust="spacingAndGlyphs">2021</text>
<text x="1544.97" y="1675.65" font-size="17.88" font-weight="bold" fill="#fff" textLength="40.15" lengthAdjust="spacingAndGlyphs">2022</text>
<text x="1465.37" y="1723.25" font-size="17.88" font-weight="bold" fill="#fff" textLength="40.10" lengthAdjust="spacingAndGlyphs">2023</text>
<text x="1385.78" y="1675.65" font-size="17.88" font-weight="bold" fill="#fff" textLength="39.55" lengthAdjust="spacingAndGlyphs">2024</text>
<text x="1385.77" y="1608.35" font-size="17.88" font-weight="bold" fill="#fff" textLength="39.96" lengthAdjust="spacingAndGlyphs">2025</text>
<polygon points="1746.40,1625.30 1755.75,1630.70 1755.75,1641.50 1746.40,1646.90 1737.05,1641.50 1737.05,1630.70" fill="none" stroke="#c0c0c0" stroke-width="1.2"/>
<polygon points="1746.40,1614.50 1765.11,1625.30 1765.11,1646.90 1746.40,1657.70 1727.69,1646.90 1727.69,1625.30" fill="none" stroke="#c0c0c0" stroke-width="1.2"/>
<polygon points="1746.40,1603.70 1774.46,1619.90 1774.46,1652.30 1746.40,1668.50 1718.34,1652.30 1718.34,1619.90" fill="none" stroke="#c0c0c0" stroke-width="1.2"/>
<polygon points="1746.40,1592.90 1783.81,1614.50 1783.81,1657.70 1746.40,1679.30 1708.99,1657.70 1708.99,1614.50" fill="none" stroke="#c0c0c0" stroke-width="1.2"/>
<polygon points="1746.40,1582.10 1793.17,1609.10 1793.17,1663.10 1746.40,1690.10 1699.63,1663.10 1699.63,1609.10" fill="none" stroke="#c0c0c0" stroke-width="1.2"/>
<polygon points="1746.40,1571.30 1802.52,1603.70 1802.52,1668.50 1746.40,1700.90 1690.28,1668.50 1690.28,1603.70" fill="none" stroke="#c0c0c0" stroke-width="1.2"/>
<polygon points="1746.40,1586.70 1790.39,1610.70 1801.48,1667.90 1746.40,1679.30 1704.92,1660.05 1704.57,1611.95" fill="none" stroke="#f0a500" stroke-width="3" stroke-linejoin="miter"/>
<text x="1662.47" y="1500.00" font-size="26.74" font-weight="bold" fill="#fff" textLength="171.00" lengthAdjust="spacingAndGlyphs">COEF EXPLOIT</text>
<text x="1726.37" y="1561.35" font-size="17.88" font-weight="bold" fill="#fff" textLength="40.19" lengthAdjust="spacingAndGlyphs">2020</text>
<text x="1805.97" y="1608.95" font-size="17.88" font-weight="bold" fill="#fff" textLength="39.96" lengthAdjust="spacingAndGlyphs">2021</text>
<text x="1805.97" y="1676.25" font-size="17.88" font-weight="bold" fill="#fff" textLength="40.15" lengthAdjust="spacingAndGlyphs">2022</text>
<text x="1726.37" y="1723.85" font-size="17.88" font-weight="bold" fill="#fff" textLength="40.10" lengthAdjust="spacingAndGlyphs">2023</text>
<text x="1646.78" y="1676.25" font-size="17.88" font-weight="bold" fill="#fff" textLength="39.55" lengthAdjust="spacingAndGlyphs">2024</text>
<text x="1646.77" y="1608.95" font-size="17.88" font-weight="bold" fill="#fff" textLength="39.96" lengthAdjust="spacingAndGlyphs">2025</text>
</svg></body></html>
